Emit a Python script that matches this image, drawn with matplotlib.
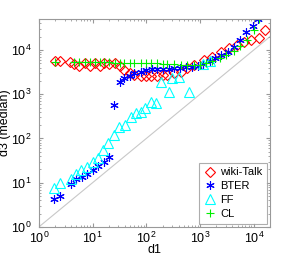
import numpy as np
import matplotlib
matplotlib.use("Agg")
import matplotlib.pyplot as plt

plt.rcParams['font.family'] = ['Liberation Sans', 'DejaVu Sans']

# wiki-Talk (red diamonds)
wiki_x = [2.0, 2.45, 3.8, 4.6, 5.7, 7.1, 8.8, 11, 13.5, 16.6, 20, 26, 32, 39, 49, 60,
          81, 100, 123, 155, 200, 245, 330, 450, 570, 780, 1170, 1660, 2450, 3470,
          4900, 6500, 8700, 12300, 16000]
wiki_y = [5600, 5600, 5300, 4800, 4300, 5000, 4300, 5000, 4300, 5000, 4800, 5000, 4300,
          3500, 3000, 2700, 2550, 2550, 2550, 2550, 2700, 2700, 3000, 3150, 3900, 4500,
          5900, 6900, 8900, 11000, 12800, 15000, 16500, 19000, 28000]

# BTER (blue asterisks)
bter_x = [1.95, 2.5, 4.0, 5.0, 6.3, 7.8, 10, 12.7, 16, 20, 25, 32, 39, 49, 60, 80, 99,
          125, 160, 200, 260, 330, 420, 540, 700, 900, 1150, 1500, 1900, 2500, 3300,
          4300, 5600, 7300, 9500, 12000]
bter_y = [4.2, 5.1, 9.3, 12.3, 13.2, 15.8, 19.4, 24, 30, 39, 570, 1900, 2300, 2570,
          2950, 3200, 3500, 3700, 3800, 3800, 3800, 3900, 4000, 4100, 4200, 4300, 4800,
          5600, 6500, 7500, 9100, 11700, 16600, 25700, 35000, 50000]

# FF (cyan triangles)
ff_x = [1.95, 2.5, 4.0, 4.9, 6.0, 7.8, 10, 12.4, 15.7, 19.5, 24.5, 31, 39.6, 51, 63,
        78, 96, 120, 150, 187, 267, 300, 400, 630, 1150, 1500]
ff_y = [7.5, 10, 12, 16, 19.4, 23, 30, 37, 55, 77, 120, 183, 200, 310, 370, 400, 490,
        680, 620, 1900, 1120, 2300, 2500, 1120, 4700, 5500]

# CL (green plus)
cl_x = [2.0, 4.6, 5.7, 7.1, 8.8, 11, 13.5, 16.6, 20, 26, 32, 39, 49, 60, 81, 100, 123,
        155, 200, 245, 330, 450, 570, 780, 1000, 1300, 1700, 2300, 3100, 4200, 5600,
        7500, 10000, 12300]
cl_y = [5400, 5300, 5300, 5300, 5300, 5300, 5300, 5300, 5300, 5200, 5200, 5200, 5200,
        5100, 5100, 5100, 5000, 5000, 4900, 4800, 4700, 4600, 4500, 4500, 4600, 5000,
        5700, 6500, 7800, 9500, 12000, 17000, 28000, 50000]

fig = plt.figure(figsize=(2.99, 2.57), dpi=100)
ax = fig.add_axes([0.130, 0.117, 0.773, 0.809])

ax.plot([1, 2e4], [1, 2e4], color='#c8c8c8', lw=0.8, zorder=1)
ax.plot(wiki_x, wiki_y, ls='none', marker='D', ms=5.5, mfc='none', mec='red',
        mew=0.8, label='wiki-Talk')
ax.plot(bter_x, bter_y, ls='none', marker=(6, 2, 0), ms=6, color='blue',
        mew=0.8, label='BTER')
ax.plot(ff_x, ff_y, ls='none', marker='^', ms=6.5, mfc='none', mec='cyan',
        mew=0.8, label='FF')
ax.plot(cl_x, cl_y, ls='none', marker='+', ms=6, color='#00ee00',
        mew=0.8, label='CL')

ax.set_xscale('log')
ax.set_yscale('log')
ax.set_xlim(1, 2e4)
ax.set_ylim(1, 5e4)
ax.set_xticks([1, 10, 100, 1000, 10000])
ax.set_yticks([1, 10, 100, 1000, 10000])
ax.set_xlabel('d1', fontsize=9, labelpad=-1)
ax.set_ylabel('d3 (median)', fontsize=9, labelpad=0)

for s in ax.spines.values():
    s.set_color('#999999')
    s.set_linewidth(0.8)
ax.tick_params(which='both', direction='in', top=True, right=True,
               color='#999999', labelsize=9)
ax.tick_params(axis='x', pad=2.5)
ax.tick_params(axis='y', pad=5)
ax.tick_params(which='major', length=3)
ax.tick_params(which='minor', length=1.5)

leg = ax.legend(loc='lower right', fontsize=8, frameon=True, fancybox=False,
                borderaxespad=0.3, handletextpad=0.3, labelspacing=0.35,
                handlelength=1.2, borderpad=0.4)
leg.get_frame().set_edgecolor('#999999')
leg.get_frame().set_linewidth(0.8)

fig.savefig('out.png', dpi=100)
